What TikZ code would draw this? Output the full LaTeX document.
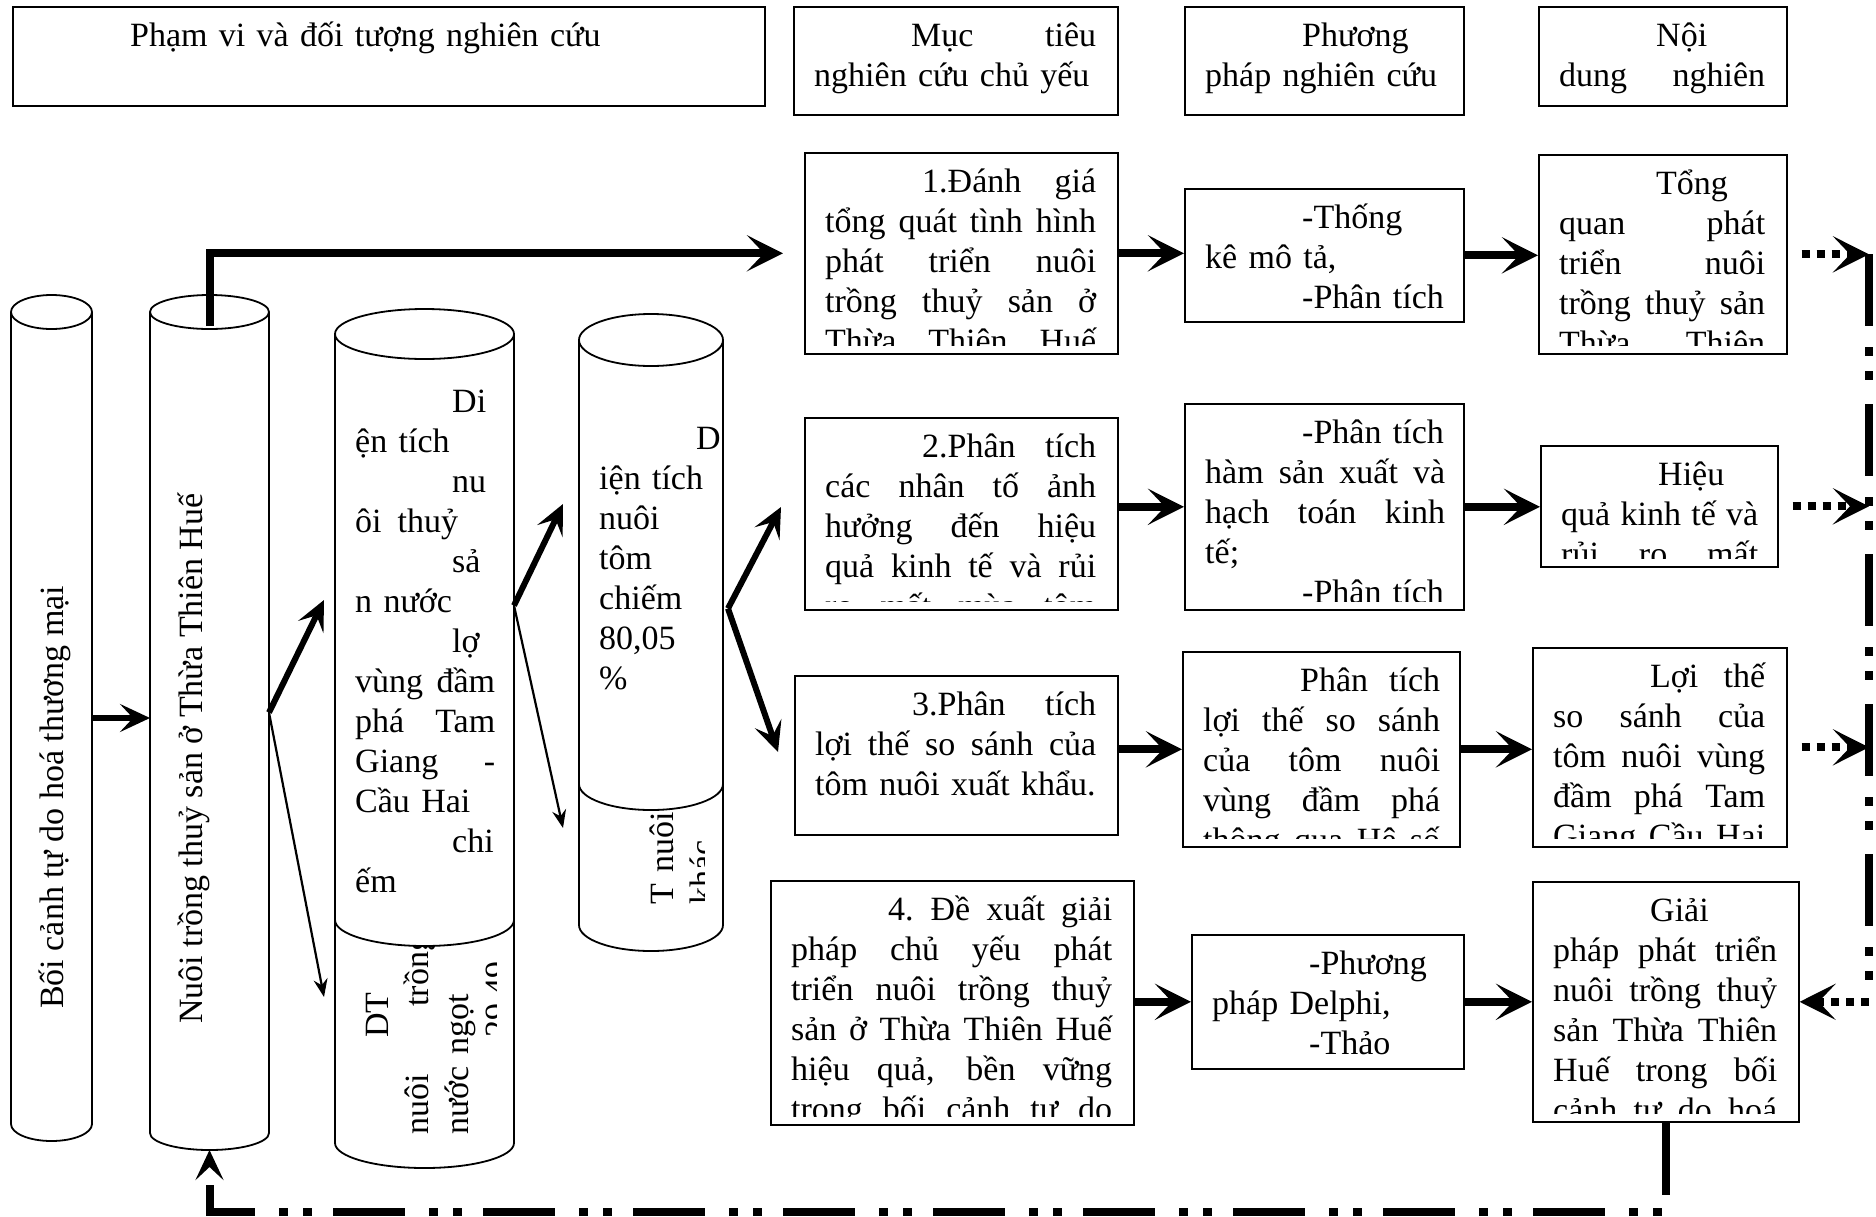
\documentclass[tikz,border=0pt]{standalone}
\usepackage{fontspec}
\setmainfont{Liberation Serif}
\usetikzlibrary{arrows.meta}
\setlength{\parindent}{0pt}
\newcommand{\tabin}{\hspace*{97pt}}
\newcommand{\topin}{\rule{0pt}{31pt}\tabin}
% one justified line: the word spaces share the free room
\newcommand{\jl}[1]{\leavevmode\hbox to \hsize{\spaceskip=.25em plus 1fil\relax #1}}
% text of a frame, cut off at the frame's lower edge
\newcommand{\boxtext}[4]{%
  \begin{scope}
    \clip ([xshift=3pt,yshift=-3pt]#1.north west) rectangle ([xshift=-3pt,yshift=9pt]#1.south east);
    \node[txt, text width=#3] (#2) at ([xshift=21pt,yshift=-9pt]#1.north west) {#4};
  \end{scope}}

\begin{document}
\begin{tikzpicture}[
  x=1pt, y=1pt,
  bigtip/.tip = {Stealth[length=36pt, width=36pt, inset=17pt]},
  midtip/.tip = {Stealth[length=30pt, width=28pt, inset=13pt]},
  smalltip/.tip = {Stealth[length=18pt, width=14pt, inset=6pt]},
  box/.style = {draw, line width=1.6pt, inner sep=0pt, anchor=north west},
  body/.style = {inner sep=0pt, outer sep=0pt},
  can/.style = {line width=1.8pt},
  txt/.style = {anchor=north west, inner sep=0pt, align=left,
                font=\fontsize{34pt}{40pt}\selectfont},
  link/.style = {-bigtip, line width=8pt},
  dotlink/.style = {link, dash pattern=on 8pt off 7pt},
  chain/.style = {line width=8pt, dash pattern=on 72pt off 21pt on 9pt off 15pt on 9pt off 24pt},
  fat/.style = {-midtip, line width=6pt},
  slim/.style = {-smalltip, line width=2.2pt},
]
\fill[white] (0,0) rectangle (1876,-1216);
\useasboundingbox (0,0) rectangle (1876,-1216);

% header row
\node[box, minimum width=752pt, minimum height=99pt] (h1) at (12,-6) {};
\node[box, minimum width=324pt, minimum height=108pt] (h2) at (793,-6) {};
\node[box, minimum width=279pt, minimum height=108pt] (h3) at (1184,-6) {};
\node[box, minimum width=248pt, minimum height=99pt] (h4) at (1538,-6) {};
\boxtext{h1}{h1t}{710pt}{\topin Phạm vi và đối tượng nghiên cứu}
\boxtext{h2}{h2t}{282pt}{\jl{\topin Mục tiêu}\\ nghiên cứu chủ yếu}
\boxtext{h3}{h3t}{240pt}{\topin Phương\\ pháp nghiên cứu}
\boxtext{h4}{h4t}{206pt}{\topin Nội\\ \jl{dung nghiên}}

% objectives, methods, contents
\node[box, minimum width=313pt, minimum height=201pt] (b1) at (804,-152) {};
\node[box, minimum width=279pt, minimum height=133pt] (m1) at (1184,-188) {};
\node[box, minimum width=248pt, minimum height=199pt] (c1) at (1538,-154) {};
\node[box, minimum width=313pt, minimum height=192pt] (b2) at (804,-417) {};
\node[box, minimum width=279pt, minimum height=206pt] (m2) at (1184,-403) {};
\node[box, minimum width=237pt, minimum height=121pt] (c2) at (1540,-445) {};
\node[box, minimum width=323pt, minimum height=159pt] (b3) at (794,-675) {};
\node[box, minimum width=277pt, minimum height=195pt] (m3) at (1182,-651) {};
\node[box, minimum width=254pt, minimum height=199pt] (c3) at (1532,-647) {};
\node[box, minimum width=363pt, minimum height=244pt] (b4) at (770,-880) {};
\node[box, minimum width=272pt, minimum height=134pt] (m4) at (1191,-934) {};
\node[box, minimum width=266pt, minimum height=240pt] (c4) at (1532,-881) {};

\boxtext{b1}{b1t}{271pt}{\jl{\topin 1.Đánh giá}\\ \jl{tổng quát tình hình}\\ \jl{phát triển nuôi}\\ \jl{trồng thuỷ sản ở}\\ \jl{Thừa Thiên Huế}}
\boxtext{m1}{m1t}{242pt}{\topin -Thống\\ kê mô tả,\\ \tabin -Phân tích}
\boxtext{c1}{c1t}{206pt}{\topin Tổng\\ \jl{quan phát}\\ \jl{triển nuôi}\\ \jl{trồng thuỷ sản}\\ \jl{Thừa Thiên}}
\boxtext{b2}{b2t}{271pt}{\jl{\topin 2.Phân tích}\\ \jl{các nhân tố ảnh}\\ \jl{hưởng đến hiệu}\\ \jl{quả kinh tế và rủi}\\ \jl{ro mất mùa tôm}}
\boxtext{m2}{m2t}{240pt}{\topin -Phân tích\\ \jl{hàm sản xuất và}\\ \jl{hạch toán kinh}\\ tế;\\ \tabin -Phân tích}
\boxtext{c2}{c2t}{197pt}{\topin Hiệu\\ \jl{quả kinh tế và}\\ \jl{rủi ro mất}}
\boxtext{b3}{b3t}{281pt}{\jl{\topin 3.Phân tích}\\ \jl{lợi thế so sánh của}\\ tôm nuôi xuất khẩu.}
\boxtext{m3}{m3t}{237pt}{\jl{\topin Phân tích}\\ \jl{lợi thế so sánh}\\ \jl{của tôm nuôi}\\ \jl{vùng đầm phá}\\ \jl{thông qua Hệ số}}
\boxtext{c3}{c3t}{212pt}{\jl{\topin Lợi thế}\\ \jl{so sánh của}\\ \jl{tôm nuôi vùng}\\ \jl{đầm phá Tam}\\ \jl{Giang Cầu Hai}}
\boxtext{b4}{b4t}{321pt}{\jl{\topin 4. Đề xuất giải}\\ \jl{pháp chủ yếu phát}\\ \jl{triển nuôi trồng thuỷ}\\ \jl{sản ở Thừa Thiên Huế}\\ \jl{hiệu quả, bền vững}\\ \jl{trong bối cảnh tự do}}
\boxtext{m4}{m4t}{232pt}{\topin -Phương\\ pháp Delphi,\\ \tabin -Thảo}
\boxtext{c4}{c4t}{224pt}{\topin Giải\\ \jl{pháp phát triển}\\ \jl{nuôi trồng thuỷ}\\ \jl{sản Thừa Thiên}\\ \jl{Huế trong bối}\\ \jl{cảnh tự do hoá}}

% cylinders
\node[body, minimum width=81pt, minimum height=812pt] (cyl1) at (51.5,-718) {};
\draw[can] (cyl1.north west) -- (cyl1.south west) arc[start angle=180, end angle=360, x radius=40.5pt, y radius=17pt] -- (cyl1.north east);
\draw[can] (cyl1.north) ellipse[x radius=40.5pt, y radius=17pt];
\node[txt, rotate=90, anchor=base west] (cyl1t) at (63,-1009) {Bối cảnh tự do hoá thương mại};

\node[body, minimum width=119pt, minimum height=821pt] (cyl2) at (209.5,-722.5) {};
\draw[can] (cyl2.north west) -- (cyl2.south west) arc[start angle=180, end angle=360, x radius=59.5pt, y radius=17pt] -- (cyl2.north east);
\draw[can] (cyl2.north) ellipse[x radius=59.5pt, y radius=17pt];
\node[txt, rotate=90, anchor=base west] (cyl2t) at (202,-1024) {Nuôi trồng thuỷ sản ở Thừa Thiên Huế};

\node[body, minimum width=179pt, minimum height=809pt] (cyl3) at (424.5,-738.5) {};
\draw[can] (cyl3.north west) -- (cyl3.south west) arc[start angle=180, end angle=360, x radius=89.5pt, y radius=25pt] -- (cyl3.north east);
\draw[can] (cyl3.north) ellipse[x radius=89.5pt, y radius=25pt];
\draw[can] (cyl3.west |- 0,-920) arc[start angle=180, end angle=360, x radius=89.5pt, y radius=26pt];
\node[txt, text width=140pt] (cyl3t) at (355,-381) {\topin Di\\ ện tích\\ \tabin nu\\ ôi\hspace{16pt}thuỷ\\ \tabin sả\\ n nước\\ \tabin lợ\\ \jl{vùng đầm}\\ \jl{phá Tam}\\ \jl{Giang -}\\ Cầu Hai\\ \tabin chi\\ ếm};
\begin{scope}
  \clip (355,-850) rectangle (496,-1216);
  \clip (335,-920) arc[start angle=180, end angle=360, x radius=89.5pt, y radius=26pt] -- (514,-1143) arc[start angle=0, end angle=-180, x radius=89.5pt, y radius=25pt] -- cycle;
  \node[txt, rotate=90, text width=200pt] (cyl3b) at (357,-1135) {\topin DT\\ \jl{nuôi trồng}\\ nước ngọt\\ \tabin 29,49 \%};
\end{scope}

\node[body, minimum width=144pt, minimum height=585pt] (cyl4) at (651,-632.5) {};
\draw[can] (cyl4.north west) -- (cyl4.south west) arc[start angle=180, end angle=360, x radius=72pt, y radius=26pt] -- (cyl4.north east);
\draw[can] (cyl4.north) ellipse[x radius=72pt, y radius=26pt];
\draw[can] (cyl4.west |- 0,-784) arc[start angle=180, end angle=360, x radius=72pt, y radius=26pt];
\node[txt, text width=120pt] (cyl4t) at (599,-418) {\topin D\\ iện tích\\ nuôi\\ tôm\\ chiếm\\ 80,05\\ \%};
\begin{scope}
  \clip (599,-700) rectangle (704,-1000);
  \clip (579,-784) arc[start angle=180, end angle=360, x radius=72pt, y radius=26pt] -- (723,-925) arc[start angle=0, end angle=-180, x radius=72pt, y radius=26pt] -- cycle;
  \node[txt, rotate=90, text width=120pt] (cyl4b) at (602,-905) {\topin D\\ T nuôi\\ khác};
\end{scope}

% free ends of the fan-out arrows
\coordinate (o3) at ([yshift=133pt]cyl3.east);
\coordinate (o4) at ([xshift=5pt,yshift=24pt]cyl4.east);
\coordinate (t2a) at (324,-600);
\coordinate (t2b) at (324,-997);
\coordinate (t3a) at (563,-504);
\coordinate (t3b) at (563,-828);
\coordinate (t4a) at (781,-507);
\coordinate (t4b) at (778,-752);
\coordinate (rtop) at (1869,-254);
\coordinate (rbot) at (1869,-1001);

\draw[fat] (cyl1.east) -- (cyl1.east -| cyl2.west);
\draw[fat] ([yshift=10pt]cyl2.east) -- (t2a);
\draw[slim] ([yshift=10pt]cyl2.east) -- (t2b);
\draw[fat] (o3) -- (t3a);
\draw[slim] (o3) -- (t3b);
\draw[fat] (o4) -- (t4a);
\draw[fat] (o4) -- (t4b);

\draw[link] ([yshift=-14pt]cyl2.north) |- ([xshift=-21pt]b1.west);
\draw[link] (b1.east) -- (b1.east -| m1.west);
\draw[link] (m1.east) -- (m1.east -| c1.west);
\draw[dotlink, shorten <=14pt] (c1.east) -- (c1.east -| rtop);
\draw[link] (b2.east |- m2.west) -- (m2.west);
\draw[link] (m2.east) -- (m2.east -| c2.west);
\draw[dotlink, shorten <=14pt] (c2.east) -- (c2.east -| rtop);
\draw[link] (b3.east |- m3.west) -- (m3.west);
\draw[link] (m3.east) -- (m3.east -| c3.west);
\draw[dotlink, shorten <=14pt] (c3.east) -- (c3.east -| rtop);
\draw[link] (b4.east |- m4.west) -- (m4.west);
\draw[link] (m4.east) -- (m4.east -| c4.west);
\draw[dotlink] (c4.east -| rtop) -- (c4.east);
\draw[chain] (rtop) -- (rbot);
\draw[chain, -midtip] (c4.south) -- ++(0,-89) -| ([yshift=-17pt]cyl2.south);
\end{tikzpicture}
\end{document}
